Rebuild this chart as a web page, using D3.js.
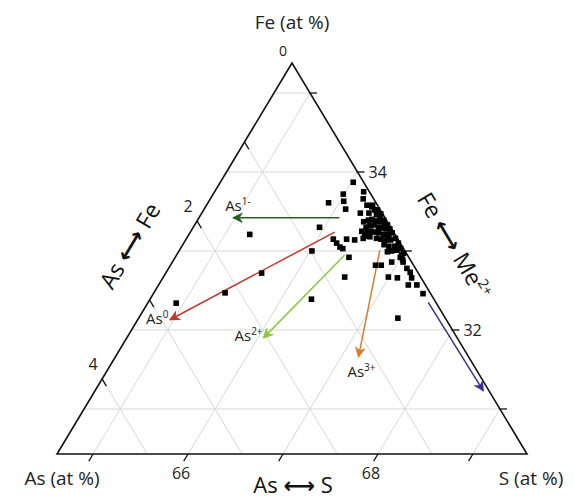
<!DOCTYPE html>
<html>
<head>
<meta charset="utf-8">
<script src="https://cdn.jsdelivr.net/npm/d3@7/dist/d3.min.js"></script>
<style>
  body { margin: 0; background: #fff; }
  svg { display: block; font-family: "Open Sans", "Noto Sans", sans-serif; }
</style>
</head>
<body>
<svg class="tern" width="574" height="499"></svg>
<script>
// ternary window: a (As) + s (S) + fe (Fe) = 100
const feMin = 30.43
const span = 4.95
const sMin = 100 - feMin - span

// measured compositions, As and Fe (at %)
const asVals = [2.74, 2.16, 1.65, 1.53, 0.98, 1.29, 0.80, 0.50, 0.75, 0.11,
  0.29, 0.33, 0.50, 0.36, 0.06, 0.11, 0.11, 0.23, 0.14, 0.07,
  0.06, 0.07, 0.68, 0.67, 0.66, 0.64, 0.54, 0.63, 0.46, 0.36,
  0.40, 0.34, 0.21, 0.09, 0.09, 0.09, 0.08, 0.34, 0.25, 0.10,
  0.09, 0.18, 0.08, 0.25, 0.19, 0.15, 0.12, 0.08, 0.05, 0.26,
  0.21, 0.16, 0.13, 0.10, 0.06, 0.33, 0.28, 0.23, 0.20, 0.16,
  0.12, 0.07, 0.33, 0.28, 0.22, 0.18, 0.13, 0.08, 0.18, 0.14,
  0.08, 0.14, 0.08, 0.19, 0.05, 0.03, 0.05, 0.02, 0.03, 0.02,
  0.02, 0.02, 0.08, 0.02, 0.02, 0.09, 0.03, 0.03, 0.06, 0.08]
const feVals = [32.34, 32.47, 32.72, 33.21, 33.00, 32.39, 32.67, 32.15, 33.30, 33.87,
  33.72, 33.63, 33.61, 33.53, 33.75, 33.66, 33.58, 33.48, 33.48, 33.56,
  33.52, 33.46, 33.15, 33.10, 33.05, 33.03, 33.15, 32.92, 33.14, 33.16,
  32.82, 32.82, 32.86, 32.92, 32.86, 32.78, 32.73, 32.67, 32.66, 32.66,
  32.57, 32.57, 32.46, 33.37, 33.39, 33.40, 33.38, 33.37, 33.34, 33.30,
  33.32, 33.33, 33.30, 33.29, 33.28, 33.25, 33.24, 33.25, 33.24, 33.23,
  33.21, 33.21, 33.19, 33.18, 33.16, 33.15, 33.14, 33.14, 33.08, 33.06,
  33.06, 33.00, 33.01, 32.99, 33.58, 33.52, 33.43, 33.47, 33.39, 33.33,
  33.28, 33.23, 33.18, 33.16, 33.10, 33.03, 33.03, 32.97, 32.95, 32.89]

// substitution trend arrows
const trendNames = ["1-", "0", "2+", "3+", "Me"]
const trendFrom = [[0.48, 33.42], [0.62, 33.24], [0.66, 32.95], [0.26, 33.01], [0.08, 32.35]]
const trendTo = [[1.60, 33.42], [2.91, 32.13], [2.04, 31.90], [1.16, 31.66], [0.06, 31.23]]
const trendColors = ["#2f5c22", "#c0392b", "#8dc63f", "#de7a2a", "#3a3192"]
const labelShift = [[-8, -7], [-24, 4], [-29, 3], [-11, 20], null]

const feTicks = [31, 32, 33, 34, 35]
const asTicks = [0, 1, 2, 3, 4]
const sTicks = [65, 66, 67, 68, 69]
const feLabels = [34, 32]
const asLabels = [0, 2, 4]
const sLabels = [66, 68]

const svg = d3.select("svg.tern")

const xS = d3.scaleLinear().domain([sMin, sMin + span]).range([57, 527])
const yS = d3.scaleLinear().domain([feMin, feMin + span]).range([454, 63])

// (As, Fe) -> pixel
const proj = (a, fe) => {
  const s = 100 - a - fe
  return [xS(s) + xS(sMin + (fe - feMin) / 2) - xS(sMin), yS(fe)]
}

const line = d3.line()

// grid
const grid = []
feTicks.forEach(f => grid.push([proj(100 - sMin - f, f), proj(0, f)]))
asTicks.filter(a => a > 0).forEach(a => grid.push([proj(a, 100 - sMin - a), proj(a, feMin)]))
sTicks.forEach(s => grid.push([proj(100 - s - feMin, feMin), proj(0, 100 - s)]))

svg.append("g").selectAll("path")
  .data(grid)
  .enter()
  .append("path")
  .attr("d", d => line(d))
  .attr("stroke", "#d8d8d8")
  .attr("stroke-width", 1)
  .attr("fill", "none")

// outline
const corners = [proj(0, feMin + span), proj(span, feMin), proj(0, feMin)]
svg.append("path")
  .attr("d", line(corners) + "Z")
  .attr("stroke", "#111")
  .attr("stroke-width", 1.6)
  .attr("fill", "none")

// ticks
const tickG = svg.append("g").attr("stroke", "#111").attr("stroke-width", 1.3)
feTicks.forEach(f => {
  const p = proj(0, f)
  tickG.append("line").attr("x1", p[0] - 1).attr("y1", p[1]).attr("x2", p[0] + 7).attr("y2", p[1])
})
asTicks.filter(a => a > 0).forEach(a => {
  const p = proj(a, 100 - sMin - a)
  const q = proj(a, 100 - sMin - a + 0.09)
  tickG.append("line").attr("x1", p[0]).attr("y1", p[1]).attr("x2", 2 * p[0] - q[0]).attr("y2", 2 * p[1] - q[1])
})
sTicks.forEach(s => {
  const p = proj(100 - s - feMin, feMin)
  const q = proj(100 - s - feMin - 0.09, feMin + 0.09)
  tickG.append("line").attr("x1", p[0]).attr("y1", p[1]).attr("x2", 2 * p[0] - q[0]).attr("y2", 2 * p[1] - q[1])
})

const tickText = svg.append("g").attr("font-size", 16).attr("fill", "#222")
feLabels.forEach(f => {
  const p = proj(0, f)
  tickText.append("text").attr("x", p[0] + 11).attr("y", p[1] + 6).text(f)
})
asLabels.forEach(a => {
  const p = proj(a, 100 - sMin - a)
  tickText.append("text").attr("x", p[0] - 9).attr("y", p[1] - (a == 0 ? 7 : 9))
    .attr("text-anchor", "middle").attr("font-size", a == 0 ? 14 : 16).text(a)
})
sLabels.forEach(s => {
  const p = proj(100 - s - feMin, feMin)
  tickText.append("text").attr("x", p[0] - 7).attr("y", p[1] + 25)
    .attr("text-anchor", "middle").text(s)
})

// trend arrows
const defs = svg.append("defs")
trendColors.forEach((c, i) => {
  defs.append("marker")
    .attr("id", "ah" + i)
    .attr("viewBox", "0 0 10 10")
    .attr("refX", 9).attr("refY", 5)
    .attr("markerWidth", 12).attr("markerHeight", 11)
    .attr("markerUnits", "userSpaceOnUse")
    .attr("orient", "auto")
    .append("path")
    .attr("d", "M0,0 L10,5 L0,10 L3,5 Z")
    .attr("fill", c)
})

svg.append("g").selectAll("path")
  .data(trendNames)
  .enter()
  .append("path")
  .attr("d", (d, i) => line([proj(...trendFrom[i]), proj(...trendTo[i])]))
  .attr("stroke", (d, i) => trendColors[i])
  .attr("stroke-width", 1.5)
  .attr("marker-end", (d, i) => "url(#ah" + i + ")")

trendNames.forEach((n, i) => {
  if (!labelShift[i]) return
  const p = proj(...trendTo[i])
  const t = svg.append("text")
    .attr("x", p[0] + labelShift[i][0])
    .attr("y", p[1] + labelShift[i][1])
    .attr("font-size", 15)
    .attr("fill", "#222")
  t.append("tspan").text("As")
  t.append("tspan").attr("dy", -6).attr("font-size", 10).text(n)
})

// data points
svg.append("g").selectAll("rect")
  .data(asVals)
  .enter()
  .append("rect")
  .attr("x", (d, i) => proj(d, feVals[i])[0] - 2.8)
  .attr("y", (d, i) => proj(d, feVals[i])[1] - 2.8)
  .attr("width", 5.6)
  .attr("height", 5.6)
  .attr("fill", "#000")

// titles
svg.append("text").attr("x", 292).attr("y", 29).attr("text-anchor", "middle")
  .attr("font-size", 19).attr("fill", "#222").text("Fe (at %)")
svg.append("text").attr("x", 62).attr("y", 485).attr("text-anchor", "middle")
  .attr("font-size", 19).attr("fill", "#222").text("As (at %)")
svg.append("text").attr("x", 531).attr("y", 485).attr("text-anchor", "middle")
  .attr("font-size", 19).attr("fill", "#222").text("S (at %)")

const bigT = (x, y, ang, size, parts) => {
  const t = svg.append("text")
    .attr("transform", `translate(${x},${y}) rotate(${ang})`)
    .attr("text-anchor", "middle")
    .attr("font-size", size)
    .attr("fill", "#111")
  parts.forEach(p => {
    const s = t.append("tspan").text(p[0])
    if (p[1]) s.attr("font-family", "DejaVu Sans").attr("font-weight", "bold")
  })
}
bigT(293, 493, 0, 22, [["As "], ["\u27F7", 1], [" S"]])
bigT(137, 250, -59.1, 23, [["As "], ["\u27F7", 1], [" Fe"]])
const tr = svg.append("text")
  .attr("transform", `translate(447,250) rotate(59.1)`)
  .attr("text-anchor", "middle")
  .attr("font-size", 23)
  .attr("fill", "#111")
tr.append("tspan").text("Fe ")
tr.append("tspan").attr("font-family", "DejaVu Sans").attr("font-weight", "bold").text("\u27F7")
tr.append("tspan").text(" Me")
tr.append("tspan").attr("dy", -9).attr("font-size", 14).text("2+")
</script>
</body>
</html>
